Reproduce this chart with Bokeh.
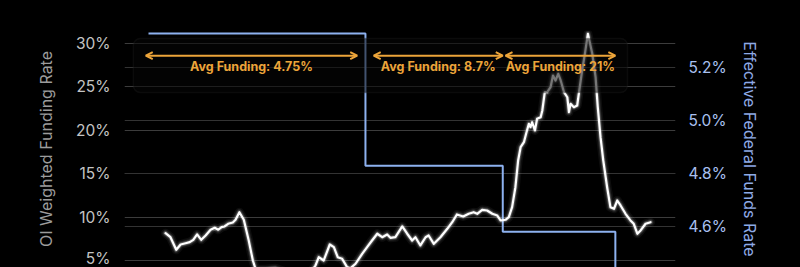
import pandas as pd
from bokeh.plotting import figure
from bokeh.models import (Range1d, LinearAxis, Grid, BoxAnnotation, Arrow, OpenHead,
                          Label, FixedTicker, CustomJSTickFormatter)
from bokeh.embed import file_html
from bokeh.resources import INLINE

# ---------------- data ----------------
start_date = "2024-07-01"
# OI weighted funding rate (%), sampled by days since start_date
funding_day = [6.2, 8.0, 10.1, 11.7, 13.5, 15.0, 16.3, 17.7, 19.2, 20.8, 22.6, 24.1, 25.4, 26.6,
               27.7, 29.0, 30.7, 31.7, 33.1, 34.7, 36.5, 38.0, 39.0, 42.6, 46.2, 51.7, 55.4, 59.0,
               60.8, 62.0, 63.8, 66.0, 67.5, 68.9, 70.5, 72.3, 73.5, 75.4, 77.8, 79.6, 81.4, 83.3,
               85.1, 86.9, 88.1, 89.9, 92.4, 94.2, 96.0, 97.2, 99.0, 100.9, 102.0, 103.9, 106.3,
               108.8, 110.6, 112.3, 114.6, 116.6, 118.4, 119.7, 121.5, 123.3, 125.2, 127.0, 128.2,
               130.0, 131.2, 132.4, 133.6, 134.6, 135.5, 136.7, 137.5, 138.5, 139.1, 139.7, 140.7,
               141.5, 142.8, 143.4, 144.3, 145.2, 146.4, 147.3, 148.2, 149.2, 150.1, 151.3, 152.5,
               153.1, 153.7, 154.9, 156.1, 156.7, 157.9, 158.9, 160.0, 161.6, 162.8, 163.6, 164.6,
               165.6, 167.0, 168.2, 169.5, 170.7, 171.9, 173.7, 175.5, 176.7, 178.0, 179.2, 181.0,
               182.8]
funding_rate = [8.15, 7.68, 6.23, 6.84, 6.99, 7.11, 7.38, 8.00, 7.38, 7.88, 8.54, 8.76, 8.54, 8.84,
                8.92, 9.23, 9.38, 9.69, 10.56, 9.69, 7.30, 5.00, 4.00, 4.00, 4.10, 3.50, 3.00, 3.60,
                4.42, 5.38, 5.00, 6.84, 6.53, 5.38, 5.20, 4.23, 4.10, 4.62, 5.77, 6.53, 7.30, 8.08,
                7.68, 8.00, 7.61, 7.68, 8.92, 8.08, 7.30, 7.68, 6.73, 7.68, 7.88, 6.92, 7.68,
                8.65, 9.41, 10.30, 10.07, 10.38, 10.56, 10.38, 10.84, 10.76, 10.38, 10.18, 9.61,
                9.69, 9.99, 11.14, 13.44, 16.52, 18.05, 18.63, 19.60, 20.75, 20.36, 20.93, 19.98,
                21.32, 21.51, 22.28, 24.39, 24.39, 24.97, 26.31, 25.74, 26.51, 25.74, 24.39, 23.81,
                22.09, 23.05, 22.66, 22.86, 24.21, 26.89, 28.81, 31.12, 28.81, 26.12, 22.66, 19.21,
                16.52, 13.44, 11.14, 10.96, 11.91, 11.34, 10.38, 9.61, 9.23, 8.08, 8.46, 9.23,
                9.41]

# Effective federal funds rate (%), step changes
fed_dates = ["2024-07-01", "2024-09-18", "2024-11-07", "2024-12-18", "2024-12-31"]
fed_rates = [5.33, 4.83, 4.58, 4.33, 4.33]

# Average funding annotations: (start, end, label)
avg_starts = ["2024-06-30", "2024-09-21", "2024-11-08"]
avg_ends = ["2024-09-15", "2024-11-07", "2024-12-18"]
avg_labels = ["Avg Funding: 4.75%", "Avg Funding: 8.7%", "Avg Funding: 21%"]

left_ticks = [5, 10, 15, 20, 25, 30]
right_ticks = [4.6, 4.8, 5.0, 5.2]
left_title = "OI Weighted Funding Rate"
right_title = "Effective Federal Funds Rate"

# ---------------- helpers ----------------
t0 = pd.Timestamp(start_date)
def ms(ts):
    return pd.Timestamp(ts).value / 1e6
def day_ms(d):
    return ms(t0 + pd.Timedelta(days=d))

fund_x = [t0 + pd.Timedelta(days=d) for d in funding_day]
fed_x = [pd.Timestamp(d) for d in fed_dates]

FONT = "Inter"
ORANGE = "#eda53a"
BLUE = "#8db1ef"

p = figure(width=800, height=267, x_axis_type="datetime",
           output_backend="svg", toolbar_location=None,
           x_range=Range1d(day_ms(-8.74), day_ms(191.9)),
           y_range=Range1d(4.19, 31.50),
           min_border_left=124, min_border_right=125, min_border_top=30, min_border_bottom=0,
           background_fill_color="black", border_fill_color="black")
p.styles = {"background-color": "black"}
p.outline_line_color = None
p.extra_y_ranges = {"fed": Range1d(4.445, 5.3413)}

p.xaxis.visible = False
p.xgrid.visible = False

# left axis
ya = p.yaxis[0]
ya.ticker = FixedTicker(ticks=left_ticks)
ya.formatter = CustomJSTickFormatter(code="return tick.toFixed(0) + '%';")
ya.axis_line_color = None
ya.major_tick_line_color = None
ya.minor_tick_line_color = None
ya.major_label_text_color = "#c4c4c4"
ya.major_label_text_font = FONT
ya.major_label_text_font_size = "15.5px"
ya.major_label_standoff = 8
ya.axis_label = left_title
ya.axis_label_text_color = "#9c9c9c"
ya.axis_label_text_font = FONT
ya.axis_label_text_font_size = "16px"
ya.axis_label_text_font_style = "normal"
ya.axis_label_standoff = 17

p.ygrid.ticker = FixedTicker(ticks=left_ticks)
p.ygrid.grid_line_color = "#3c3c3c"
p.ygrid.grid_line_width = 1

# right axis
ra = LinearAxis(y_range_name="fed", ticker=FixedTicker(ticks=right_ticks),
                formatter=CustomJSTickFormatter(code="return tick.toFixed(1) + '%';"))
ra.axis_line_color = None
ra.major_tick_line_color = None
ra.minor_tick_line_color = None
ra.major_label_text_color = "#a9c0f0"
ra.major_label_text_font = FONT
ra.major_label_text_font_size = "15.5px"
ra.major_label_standoff = 7
ra.axis_label = right_title
ra.axis_label_text_color = "#8eaae6"
ra.axis_label_text_font = FONT
ra.axis_label_text_font_size = "16px"
ra.axis_label_text_font_style = "normal"
ra.axis_label_standoff = 10
p.add_layout(ra, "right")
rg = Grid(dimension=1, ticker=FixedTicker(ticks=right_ticks), y_range_name="fed",
          grid_line_color="#333333", grid_line_width=1)
p.add_layout(rg)

# fed funds step line
p.step(fed_x, fed_rates, mode="after", y_range_name="fed", line_color=BLUE, line_width=2)

# funding line with glow
for w, a in [(9, 0.05), (6, 0.1), (4, 0.22)]:
    p.line(fund_x, funding_rate, line_color="white", line_width=w, line_alpha=a,
           line_join="round", line_cap="round")
p.line(fund_x, funding_rate, line_color="white", line_width=2.2, line_join="round", line_cap="round")

# annotation box
box = BoxAnnotation(left=day_ms(-5.5), right=day_ms(174.4),
                    bottom=24.35, top=30.58, fill_color="#050505", fill_alpha=0.55,
                    line_color="#262626", line_width=1.5, border_radius=7, level="overlay")
p.add_layout(box)

for s, e, lab in zip(avg_starts, avg_ends, avg_labels):
    xs, xe = ms(s), ms(e)
    arr = Arrow(x_start=xs, y_start=28.6, x_end=xe, y_end=28.6,
                start=OpenHead(size=7, line_color=ORANGE, line_width=2),
                end=OpenHead(size=7, line_color=ORANGE, line_width=2),
                line_color=ORANGE, line_width=2, level="overlay")
    p.add_layout(arr)
    p.add_layout(Label(x=(xs + xe) / 2, y=27.4, text=lab, text_align="center",
                       text_baseline="middle", text_color=ORANGE, text_font=FONT,
                       text_font_size="12.5px", text_font_style="bold", level="overlay"))

open("out.html", "w").write(file_html(p, INLINE))
